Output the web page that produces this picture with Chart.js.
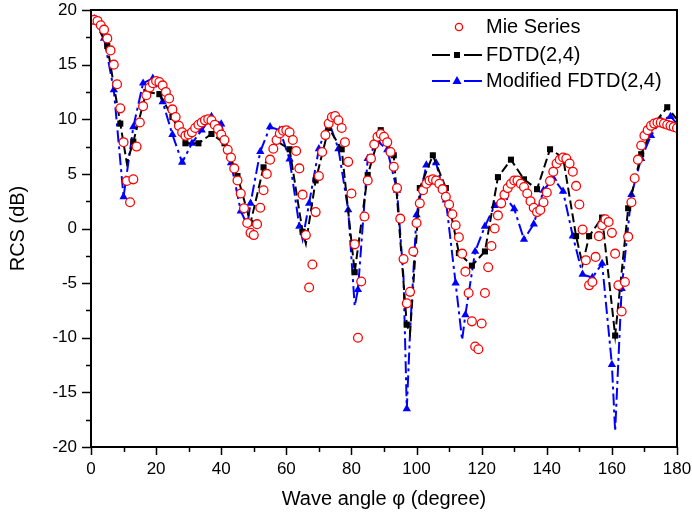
<!DOCTYPE html>
<html><head><meta charset="utf-8">
<script src="https://cdn.jsdelivr.net/npm/chart.js@4/dist/chart.umd.min.js"></script>
<style>html,body{margin:0;padding:0;background:#fff}#wrap{width:692px;height:519px}</style>
</head><body><div id="wrap"><canvas id="c" width="692" height="519"></canvas></div>
<script>
// ---- data ----
const mieAngles = [1,2,3,4,5,6,7,8,9,10,11,12,13,14,15,16,17,18,19,20,21,22,23,24,25,26,27,28,29,30,
31,32,33,34,35,36,37,38,39,40,41,42,43,44,45,46,47,48,49,50,51,52,53,54,55,56,57,58,59,60,
61,62,63,64,65,66,67,68,69,70,71,72,73,74,75,76,77,78,79,80,81,82,83,84,85,86,87,88,89,90,
91,92,93,94,95,96,97,98,99,100,101,102,103,104,105,106,107,108,109,110,111,112,113,114,115,116,117,118,119,120,
121,122,123,124,125,126,127,128,129,130,131,132,133,134,135,136,137,138,139,140,141,142,143,144,145,146,147,148,149,150,
151,152,153,154,155,156,157,158,159,160,161,162,163,164,165,166,167,168,169,170,171,172,173,174,175,176,177,178,179,180];
const mieValues = [19.1,19.0,18.6,18.2,17.4,16.3,15.0,13.2,11.0,7.9,
4.35,2.4,4.5,7.5,9.7,11.2,12.2,12.9,13.3,13.5,
13.4,13.1,12.5,11.9,10.9,10.2,9.4,8.8,8.5,8.6,
8.8,9.2,9.5,9.7,9.9,10.0,9.9,9.5,9.1,8.6,
8.1,7.2,6.5,5.5,4.4,3.2,1.85,0.5,-0.4,-0.6,
0.4,1.9,3.5,5.0,6.3,7.3,8.1,8.7,8.95,9.0,
8.8,8.1,7.1,5.5,3.1,-0.6,-5.4,-3.3,1.5,4.8,
7.0,8.55,9.6,10.2,10.3,9.9,9.2,7.9,6.1,3.2,
-1.45,-10.0,-4.85,1.1,4.4,6.4,7.7,8.4,8.65,8.4,
7.9,7.0,5.65,3.7,0.9,-2.8,-6.85,-5.8,-2.1,0.5,
2.3,3.5,4.1,4.4,4.5,4.4,4.1,3.6,2.9,2.2,
1.3,0.3,-0.8,-2.3,-3.95,-5.9,-8.5,-10.8,-11.05,-8.7,
-5.9,-3.55,-1.6,0.0,1.2,2.3,3.1,3.7,4.1,4.4,
4.4,4.1,3.8,3.2,2.5,1.9,1.5,1.7,2.4,3.3,
4.35,5.2,5.95,6.3,6.5,6.4,5.95,5.2,3.9,2.2,
-0.1,-2.9,-5.2,-4.9,-2.6,-0.7,0.3,0.85,0.6,-0.4,
-2.3,-5.2,-7.6,-4.9,-0.75,2.4,4.6,6.3,7.6,8.5,
9.0,9.4,9.6,9.7,9.7,9.6,9.5,9.4,9.3,9.2];

const fdtdAngles = [1,5,9,11,13,17,21,25,29,33,37,41,45,49,53,57,61,65,66,69,73,77,81,85,89,93,97,98,
101,105,109,113,117,121,125,129,133,137,141,145,149,151,153,157,161,165,169,173,177,180];
const fdtdValues = [19.1,16.7,9.6,6.0,7.95,12.5,12.3,10.2,7.8,7.8,8.65,7.8,4.8,0.5,5.6,8.0,7.25,-0.3,-1.4,4.4,9.2,7.25,-4.0,4.9,9.0,6.7,-8.8,-9.6,
3.7,6.7,3.7,-2.25,-3.4,-2.1,4.7,6.3,4.5,3.6,7.25,6.5,-0.7,-3.3,-0.7,1.0,-9.8,1.85,6.8,9.6,11.1,10.0];

const modAngles = [1,4,7,10,13,16,19,22,25,28,31,34,37,40,43,46,48,49,52,55,58,61,64,65,67,70,73,76,79,81,82,85,88,91,94,96,97,98,
100,103,106,109,112,114,115,118,121,124,127,130,133,136,139,142,145,148,151,154,157,160,161,163,166,169,172,175,178,180];
const modValues = [19.2,17.4,12.7,2.9,9.3,13.3,13.75,11.6,8.6,6.05,7.8,9.0,10.25,9.55,6.0,1.6,0.3,2.3,7.05,9.3,9.0,6.35,0.2,-1.0,2.3,7.3,9.8,7.3,1.7,-7.1,-5.6,6.4,8.0,7.2,3.5,-4.5,-16.5,-9.5,
1.25,5.8,6.0,2.6,-5.0,-10.2,-7.9,-2.1,0.2,2.1,3.0,1.8,-1.0,0.4,3.5,4.6,3.4,-0.7,-4.2,-4.5,-3.2,-12.45,-18.55,-5.5,3.1,6.4,8.5,9.9,10.25,9.6];

const seriesNames = ['Mie Series', 'FDTD(2,4)', 'Modified FDTD(2,4)'];
const xTicks = [0,20,40,60,80,100,120,140,160,180];
const yTicks = [-20,-15,-10,-5,0,5,10,15,20];
const xTitle = 'Wave angle \u03C6 (degree)';
const yTitle = 'RCS (dB)';

// ---- build ----
const pts = (a, v) => a.map((x, i) => ({x, y: v[i]}));
const FONT = "'Liberation Sans', Arial, sans-serif";

const styles = [
  {color: '#ff0000'},
  {color: '#000000', dash: [9, 4], marker: 'rect', every: 4, r: 4.3},
  {color: '#0000ff', dash: [12, 4, 3, 4], marker: 'triangle', every: 3, r: 4.8}
];

const boxPlugin = {
  id: 'box',
  afterDatasetsDraw(chart) {
    const {ctx, chartArea: a, scales: {x, y}} = chart;
    ctx.save();
    ctx.strokeStyle = '#000';
    ctx.lineWidth = 2;
    ctx.strokeRect(a.left, a.top, a.right - a.left, a.bottom - a.top);
    ctx.lineWidth = 1.5;
    ctx.beginPath();
    for (let v = x.min; v <= x.max; v += 10) {
      const p = Math.round(x.getPixelForValue(v)) + 0.5;
      const len = (v % 20 === 0) ? 8 : 5;
      ctx.moveTo(p, a.bottom); ctx.lineTo(p, a.bottom + len);
    }
    for (let v = y.min; v <= y.max; v += 2.5) {
      const p = Math.round(y.getPixelForValue(v)) + 0.5;
      const len = (v % 5 === 0) ? 9 : 5;
      ctx.moveTo(a.left, p); ctx.lineTo(a.left - len, p);
    }
    ctx.stroke();
    ctx.restore();
  },
  afterDraw(chart) {
    const {ctx, chartArea: a} = chart;
    ctx.save();
    const x0 = a.left + 341, x1 = a.left + 391, xm = (x0 + x1) / 2, xt = a.left + 395;
    const rows = [a.top + 16, a.top + 44, a.top + 70];
    ctx.font = '20px ' + FONT;
    ctx.textBaseline = 'middle';
    ctx.fillStyle = '#000';
    rows.forEach((ry, i) => {
      const s = styles[i];
      if (i === 0) {
        ctx.beginPath(); ctx.arc(xm + 2, ry + 1, 3.6, 0, Math.PI * 2);
        ctx.fillStyle = '#fff'; ctx.fill();
        ctx.strokeStyle = s.color; ctx.lineWidth = 1.3; ctx.stroke();
      } else {
        ctx.strokeStyle = s.color; ctx.lineWidth = 2;
        ctx.beginPath();
        ctx.moveTo(x0, ry + 1); ctx.lineTo(xm - 7, ry + 1);
        ctx.moveTo(xm + 7, ry + 1); ctx.lineTo(x1, ry + 1);
        ctx.stroke();
        ctx.fillStyle = s.color;
        ctx.beginPath();
        if (s.marker === 'rect') {
          ctx.rect(xm - 3, ry - 2, 6, 6);
        } else {
          ctx.moveTo(xm, ry - 4); ctx.lineTo(xm + 4.5, ry + 4); ctx.lineTo(xm - 4.5, ry + 4); ctx.closePath();
        }
        ctx.fill();
      }
      ctx.fillStyle = '#000';
      ctx.fillText(seriesNames[i], xt, ry + 1);
    });
    ctx.restore();
  }
};

new Chart(document.getElementById('c'), {
  type: 'line',
  data: {
    datasets: [
      {
        label: seriesNames[0], data: pts(mieAngles, mieValues), showLine: false,
        pointStyle: 'circle', pointRadius: 4.4, pointBorderWidth: 1.3,
        pointBorderColor: styles[0].color, pointBackgroundColor: '#ffffff'
      },
      {
        label: seriesNames[1], data: pts(fdtdAngles, fdtdValues),
        borderColor: styles[1].color, borderWidth: 2, borderDash: styles[1].dash,
        pointStyle: 'rect', pointBorderWidth: 0,
        pointBackgroundColor: styles[1].color, pointBorderColor: styles[1].color,
        pointRadius: c => ((fdtdAngles[c.dataIndex] - 1) % styles[1].every === 0 ? styles[1].r : 0),
        tension: 0, fill: false
      },
      {
        label: seriesNames[2], data: pts(modAngles, modValues),
        borderColor: styles[2].color, borderWidth: 2, borderDash: styles[2].dash,
        pointStyle: 'triangle', pointBorderWidth: 0,
        pointBackgroundColor: styles[2].color, pointBorderColor: styles[2].color,
        pointRadius: c => ((modAngles[c.dataIndex] - 1) % styles[2].every === 0 ? styles[2].r : 0),
        tension: 0, fill: false
      }
    ]
  },
  options: {
    responsive: false, animation: false, devicePixelRatio: 1,
    layout: {padding: {left: 0, top: 10, right: 15, bottom: 0}},
    plugins: {legend: {display: false}, tooltip: {enabled: false}},
    elements: {line: {borderCapStyle: 'butt'}},
    scales: {
      x: {
        type: 'linear', min: 0, max: 180,
        afterFit: s => { s.height = 72; s.paddingLeft = 0; s.paddingRight = 0; },
        afterBuildTicks: s => { s.ticks = xTicks.map(v => ({value: v})); },
        grid: {display: false, drawTicks: false},
        border: {display: false},
        ticks: {color: '#000', font: {family: FONT, size: 17}, padding: 12, maxRotation: 0, autoSkip: false},
        title: {display: true, text: xTitle, color: '#000', font: {family: FONT, size: 20}, padding: {top: 0, bottom: 8}}
      },
      y: {
        type: 'linear', min: -20, max: 20,
        afterFit: s => { s.width = 91; s.paddingTop = 0; s.paddingBottom = 0; },
        afterBuildTicks: s => { s.ticks = yTicks.map(v => ({value: v})); },
        grid: {display: false, drawTicks: false},
        border: {display: false},
        ticks: {color: '#000', font: {family: FONT, size: 17}, padding: 14, autoSkip: false},
        title: {display: true, text: yTitle, color: '#000', font: {family: FONT, size: 20}, padding: {top: 6, bottom: 0}}
      }
    }
  },
  plugins: [boxPlugin]
});
</script></body></html>
